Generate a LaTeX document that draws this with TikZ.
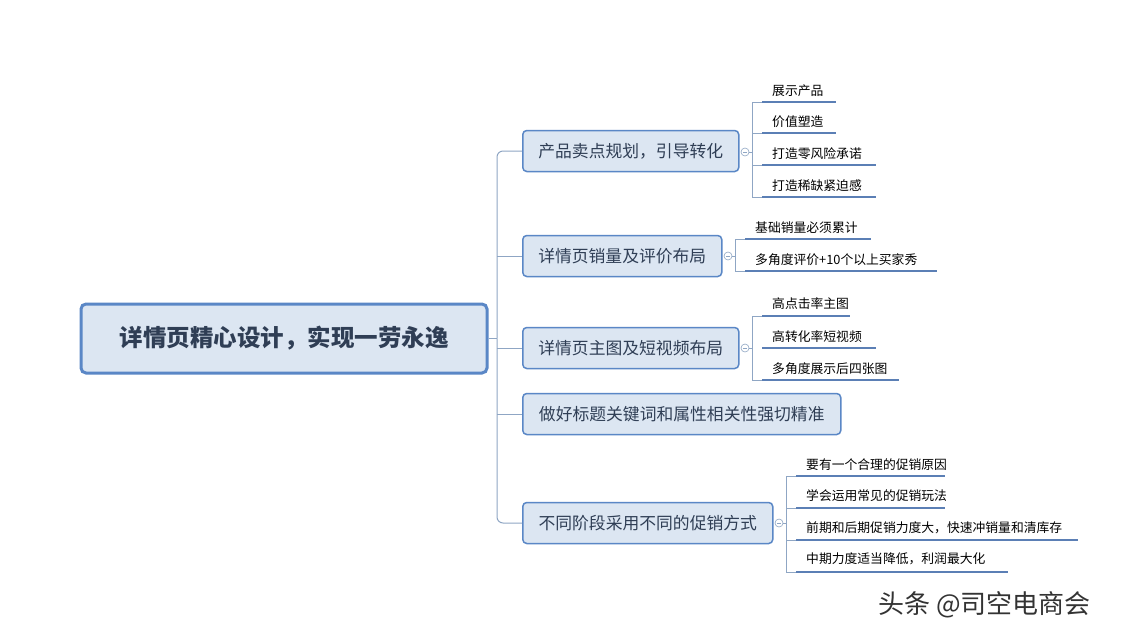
\documentclass[tikz,border=0pt]{standalone}
\usepackage{fontspec}
\setmainfont{Noto Sans CJK SC}
\begin{document}
\begin{tikzpicture}[x=1pt,y=-1pt,
  mainbox/.style={draw=mblue,line width=3pt,fill=lfill,rounded corners=5pt,minimum width=406pt,minimum height=69pt,font=\fontsize{23.5}{26}\selectfont\bfseries,text=tcol},
  subbox/.style={draw=mblue,line width=1.5pt,fill=lfill,rounded corners=4pt,minimum height=41pt,font=\fontsize{16.8}{19}\selectfont,text=tcol,anchor=west},
  leaf/.style={font=\fontsize{12.8}{15}\selectfont,text=black,anchor=base west,inner sep=0pt},
  uline/.style={draw=ublue,line width=2.6pt},
  conn/.style={draw=cblue,line width=1pt,rounded corners=6pt},
  brk/.style={draw=cblue,line width=0.8pt},
  tog/.style={circle,draw=cblue,line width=0.6pt,inner sep=0pt,minimum size=8pt,fill=white}]
\definecolor{mblue}{HTML}{5A87C6}
\definecolor{lfill}{HTML}{DCE6F2}
\definecolor{tcol}{HTML}{2F3E55}
\definecolor{ublue}{HTML}{5B7FB5}
\definecolor{cblue}{HTML}{8FA6C4}
\useasboundingbox (0,0) rectangle (1135,638);
\fill[white] (0,0) rectangle (1135,638);
% trunk
\node[mainbox] (m) at (284,338.5) {详情页精心设计，实现一劳永逸};
\node[subbox,minimum width=216pt] (b1) at (522,151) {产品卖点规划，引导转化};
\node[subbox,minimum width=199pt] (b2) at (522,256) {详情页销量及评价布局};
\node[subbox,minimum width=216pt] (b3) at (522,348) {详情页主图及短视频布局};
\node[subbox,minimum width=318pt] (b4) at (522,414) {做好标题关键词和属性相关性强切精准};
\node[subbox,minimum width=250pt] (b5) at (522,523) {不同阶段采用不同的促销方式};
\coordinate (tr) at (497,338.5);
\draw[conn] (m.east) -- (tr);
\draw[conn] (b1.west) -- (497,151) -- (tr);
\draw[conn] (b5.west) -- (497,523) -- (tr);
\draw[conn] (b2.west) -- (497,256);
\draw[conn] (b3.west) -- (497,348);
\draw[conn] (b4.west) -- (497,414);
% toggles
\node[tog] (t1) at (745,152) {};
\node[tog] (t2) at (728,256) {};
\node[tog] (t3) at (745,348) {};
\node[tog] (t5) at (779,523) {};
\foreach \t in {t1,t2,t3,t5}{\draw[cblue,line width=0.6pt] ([xshift=-2pt]\t.center) -- ([xshift=2pt]\t.center);}
\draw[brk] (t1.east) -- (752,152);
\draw[brk] (t2.east) -- (735,256);
\draw[brk] (t3.east) -- (752,348);
\draw[brk] (t5.east) -- (786,523);
% branch 1
\draw[brk] (762,102) -- (752,102) -- (752,197) -- (762,197);
\draw[brk] (752,133) -- (762,133); \draw[brk] (752,165) -- (762,165);
\node[leaf] (l11) at (772,95) {展示产品};
\node[leaf] (l12) at (772,126) {价值塑造};
\node[leaf] (l13) at (772,158) {打造零风险承诺};
\node[leaf] (l14) at (772,190) {打造稀缺紧迫感};
\draw[uline] (762,102) -- (836,102);
\draw[uline] (762,133) -- (836,133);
\draw[uline] (762,165) -- (876,165);
\draw[uline] (762,197) -- (876,197);
% branch 2
\draw[brk] (745,239) -- (735,239) -- (735,271) -- (745,271);
\node[leaf] (l21) at (755,232) {基础销量必须累计};
\node[leaf] (l22) at (755,264) {多角度评价+10个以上买家秀};
\draw[uline] (745,239) -- (871,239);
\draw[uline] (745,271) -- (937,271);
% branch 3
\draw[brk] (762,316) -- (752,316) -- (752,380) -- (762,380);
\node[leaf] (l31) at (772,308) {高点击率主图};
\node[leaf] (l32) at (772,341) {高转化率短视频};
\node[leaf] (l33) at (772,373) {多角度展示后四张图};
\draw[uline] (762,316) -- (850,316);
\draw[uline] (762,348) -- (876,348);
\draw[uline] (762,380) -- (899,380);
% branch 5
\draw[brk] (796,476) -- (786,476) -- (786,572) -- (796,572);
\draw[brk] (786,508) -- (796,508); \draw[brk] (786,540) -- (796,540);
\node[leaf] (l51) at (806,469) {要有一个合理的促销原因};
\node[leaf] (l52) at (806,500) {学会运用常见的促销玩法};
\node[leaf] (l53) at (806,532) {前期和后期促销力度大，快速冲销量和清库存};
\node[leaf] (l54) at (806,563) {中期力度适当降低，利润最大化};
\draw[uline] (796,476) -- (945,476);
\draw[uline] (796,508) -- (945,508);
\draw[uline] (796,540) -- (1078,540);
\draw[uline] (796,572) -- (1008,572);
% watermark
\node[font=\fontsize{26}{28}\selectfont,text=black!80,anchor=west,inner sep=0pt] (wm) at (878,605) {头条 @司空电商会};
\end{tikzpicture}
\end{document}
